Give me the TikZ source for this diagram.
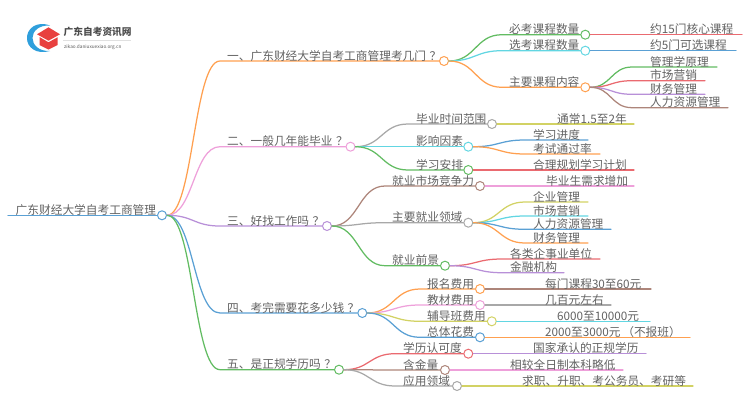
\documentclass[tikz,border=0pt]{standalone}
\usepackage{fontspec}
\setmainfont{Noto Sans CJK SC}
\usetikzlibrary{calc}
\definecolor{cOr}{HTML}{FFA050}
\definecolor{cGr}{HTML}{62BC62}
\definecolor{cCy}{HTML}{62D6E2}
\definecolor{cBl}{HTML}{5AA0D4}
\definecolor{cRe}{HTML}{EA6A70}
\definecolor{cPu}{HTML}{B890D8}
\definecolor{cBr}{HTML}{AD857A}
\definecolor{cPi}{HTML}{EEA0DA}
\definecolor{cGy}{HTML}{A8A8A8}
\definecolor{cYe}{HTML}{D2D264}
\definecolor{cTx}{HTML}{626262}
\definecolor{logoBlue}{HTML}{2F9FDC}
\definecolor{logoRed}{HTML}{E8403F}
\tikzset{
  dotnode/.style={circle,draw,fill=white,line width=1pt,minimum size=9pt,inner sep=0pt},
  lab/.style={text=cTx,font=\fontsize{11.7}{12}\selectfont,inner sep=0pt,anchor=base west},
  link/.style={line width=1.25pt,line cap=round},
}
\newcommand\qm{\hspace{0.3em}？}
% name, parent, line start x, y, line end x, colour, text x, text
\newcommand\linkpath[5]{%
  \coordinate (#1s) at (#3,#4);
  \coordinate (#1m) at ($(#2.east)!.5!(#1s)$);
  \draw[link,#5] (#2.east) .. controls (#1m |- #2.east) and (#1m |- #1s) .. (#1s) -- (#1e);
}
\newcommand\midb[8]{%
  \node[dotnode,draw=#6] (#1) at (#5,#4) {};
  \coordinate (#1e) at (#1.west);
  \linkpath{#1}{#2}{#3}{#4}{#6}
  \node[lab] (#1t) at (#7,#4-1) {#8};
}
\newcommand\leafb[8]{%
  \coordinate (#1e) at (#5,#4);
  \linkpath{#1}{#2}{#3}{#4}{#6}
  \node[lab] (#1t) at (#7,#4-1) {#8};
}
\begin{document}
\begin{tikzpicture}[x=1pt,y=-1pt]
\useasboundingbox (0,0) rectangle (750,410);
% logo
\fill[logoBlue] (50,25.5) .. controls (36,20.5) and (26.5,29) .. (27,38.5) .. controls (27,47) and (36,55) .. (50,51) .. controls (39,51.5) and (32.5,45) .. (32.5,38) .. controls (32.5,31) and (39,25) .. (50,25.5) -- cycle;
\fill[logoRed] (37,34.3) -- (48.5,27.3) -- (60,34.3) -- (48.5,40.7) -- cycle;
\fill[logoRed] (39.5,37) -- (48.5,42.3) -- (57.5,37.3) -- (57.5,45) -- (48.5,49.5) -- (39.5,45) -- cycle;
\node[inner sep=0pt,anchor=base west,text=black!70,font=\fontsize{9.7}{10}\selectfont\bfseries] (brand) at (63.5,35) {广东自考资讯网};
\coordinate (ruleA) at (63,40.3);
\coordinate (ruleB) at (130.5,40.3);
\draw[black!12,line width=0.5pt] (ruleA) -- (ruleB);
\node[inner sep=0pt,anchor=base west,text=black!65,font=\fontsize{4.7}{5}\selectfont] (site) at (64,48) {zikao.daniuxuexiao.org.cn};
% root
\node[dotnode,draw=cBl] (root) at (162,215.3) {};
\coordinate (rootS) at (8,215.3);
\draw[link,cBl] (rootS) -- (root.west);
\node[lab] (roott) at (15.5,214.3) {广东财经大学自考工商管理};
% level 1
\midb{a}{root}{220}{61}{444}{cOr}{227}{一、广东财经大学自考工商管理考几门\qm}
\midb{b}{root}{220}{146.7}{350.5}{cPi}{227}{二、一般几年能毕业\qm}
\midb{c}{root}{220}{226}{327}{cPu}{227}{三、好找工作吗\qm}
\midb{d}{root}{220}{313}{362.3}{cBl}{227}{四、考完需要花多少钱\qm}
\midb{e}{root}{220}{369.7}{339}{cGr}{227}{五、是正规学历吗\qm}
% branch a
\midb{a1}{a}{502}{34.7}{585.3}{cGr}{509}{必考课程数量}
\midb{a2}{a}{502}{50.7}{585.3}{cCy}{509}{选考课程数量}
\midb{a3}{a}{502}{87.3}{585.3}{cOr}{509}{主要课程内容}
\leafb{a11}{a1}{640}{34.7}{742}{cRe}{650}{约15门核心课程}
\leafb{a21}{a2}{640}{50.7}{736}{cBl}{650}{约5门可选课程}
\leafb{a31}{a3}{632}{67}{717}{cGr}{650}{管理学原理}
\leafb{a32}{a3}{632}{80.7}{705}{cRe}{650}{市场营销}
\leafb{a33}{a3}{632}{94.3}{705}{cPu}{650}{财务管理}
\leafb{a34}{a3}{632}{107.7}{728}{cBr}{650}{人力资源管理}
% branch b
\midb{b1}{b}{408}{124}{492}{cGy}{416}{毕业时间范围}
\midb{b2}{b}{408}{146.7}{468.3}{cCy}{416}{影响因素}
\midb{b3}{b}{408}{170}{468.3}{cGr}{416}{学习安排}
\leafb{b11}{b1}{548}{124}{634}{cYe}{557}{通常1.5至2年}
\leafb{b21}{b2}{525}{140}{588}{cBl}{533}{学习进度}
\leafb{b22}{b2}{525}{154}{600}{cOr}{533}{考试通过率}
\leafb{b31}{b3}{525}{170}{634}{cRe}{533}{合理规划学习计划}
% branch c
\midb{c1}{c}{385}{186}{480}{cBr}{392}{就业市场竞争力}
\midb{c2}{c}{385}{222.7}{468.3}{cGy}{392}{主要就业领域}
\midb{c3}{c}{385}{265.7}{445}{cGr}{392}{就业前景}
\leafb{c11}{c1}{540}{186}{634}{cPi}{546}{毕业生需求增加}
\leafb{c21}{c2}{525}{202}{588}{cYe}{533}{企业管理}
\leafb{c22}{c2}{525}{216}{588}{cCy}{533}{市场营销}
\leafb{c23}{c2}{525}{229.3}{611}{cBl}{533}{人力资源管理}
\leafb{c24}{c2}{525}{243}{588}{cOr}{533}{财务管理}
\leafb{c31}{c3}{502}{259}{600}{cRe}{510}{各类企事业单位}
\leafb{c32}{c3}{502}{272.7}{564}{cPu}{510}{金融机构}
% branch d
\midb{d1}{d}{420}{289}{480}{cOr}{427}{报名费用}
\midb{d2}{d}{420}{305}{480}{cPi}{427}{教材费用}
\midb{d3}{d}{420}{321.3}{491.8}{cYe}{427}{辅导班费用}
\midb{d4}{d}{420}{337.3}{480}{cBl}{427}{总体花费}
\leafb{d11}{d1}{538}{289}{651}{cBr}{545}{每门课程30至60元}
\leafb{d21}{d2}{538}{305}{611}{cGy}{545}{几百元左右}
\leafb{d31}{d3}{550}{321.3}{650}{cCy}{557}{6000至10000元}
\leafb{d41}{d4}{538}{337.3}{690}{cOr}{545}{2000至3000元\hspace{0.15em}（不报班）}
% branch e
\midb{e1}{e}{395}{353.7}{468.3}{cRe}{403}{学历认可度}
\midb{e2}{e}{395}{370}{445}{cBr}{403}{含金量}
\midb{e3}{e}{395}{386}{457}{cGy}{403}{应用领域}
\leafb{e11}{e1}{525}{353.7}{646}{cPu}{533}{国家承认的正规学历}
\leafb{e21}{e2}{502}{370}{623}{cPi}{510}{相较全日制本科略低}
\leafb{e31}{e3}{515}{386}{693}{cYe}{522}{求职、升职、考公务员、考研等}
\end{tikzpicture}
\end{document}
